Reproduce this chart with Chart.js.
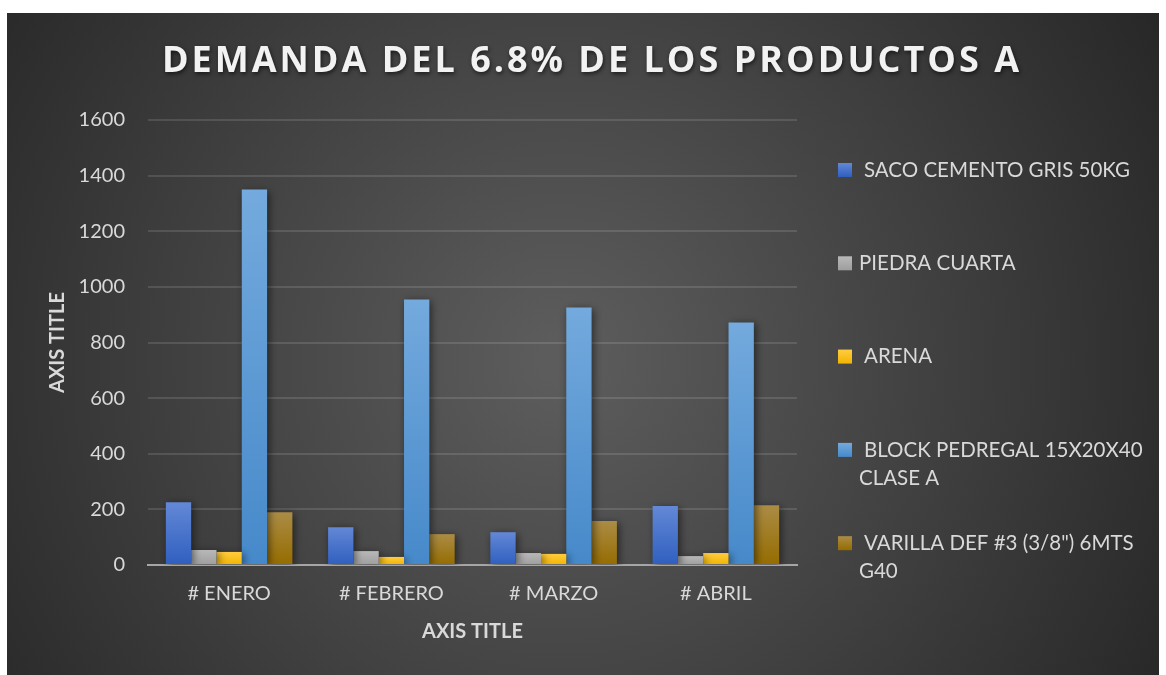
<!DOCTYPE html>
<html>
<head>
<meta charset="utf-8">
<script src="https://cdn.jsdelivr.net/npm/chart.js@4.4.1/dist/chart.umd.min.js"></script>
<style>
  html, body { margin: 0; padding: 0; background: #fff; }
  #wrap { width: 1166px; height: 675px; }
</style>
</head>
<body>
<div id="wrap"><canvas id="chart"></canvas></div>
<script>
const months = ['# ENERO', '# FEBRERO', '# MARZO', '# ABRIL'];
const seriesNames = [
  'SACO CEMENTO GRIS 50KG',
  'PIEDRA CUARTA',
  'ARENA',
  ['BLOCK PEDREGAL 15X20X40', 'CLASE A'],
  ['VARILLA DEF #3 (3/8") 6MTS', 'G40']
];
const saco = [226, 136, 118, 212];
const piedra = [54, 50, 43, 32];
const arena = [47, 29, 40, 43];
const block = [1350, 955, 926, 872];
const varilla = [190, 111, 158, 215];
const yTicks = [0, 200, 400, 600, 800, 1000, 1200, 1400, 1600];

const chartTitle = 'DEMANDA DEL 6.8% DE LOS PRODUCTOS A';
// top / bottom colours of each bar gradient
const barColors = [
  ['#6388d6', '#2f5fbf'],
  ['#b8b8b8', '#9e9e9e'],
  ['#ffcc40', '#f2b400'],
  ['#74aadd', '#4689ca'],
  ['#ab8c45', '#956c00']
];
const textColor = '#d9d9d9';
const font = 'Lato, "Open Sans", sans-serif';

function barGradient(i) {
  return ctx => {
    const chart = ctx.chart;
    if (!chart.chartArea || ctx.type !== 'data') return barColors[i][1];
    const y = chart.scales.y;
    const top = y.getPixelForValue(ctx.raw);
    const bottom = y.getPixelForValue(0);
    if (!isFinite(top) || bottom - top < 1) return barColors[i][1];
    const g = chart.ctx.createLinearGradient(0, top, 0, bottom);
    g.addColorStop(0, barColors[i][0]);
    g.addColorStop(1, barColors[i][1]);
    return g;
  };
}

const values = [saco, piedra, arena, block, varilla];
const datasets = values.map((v, i) => ({
  label: seriesNames[i],
  data: v,
  backgroundColor: barGradient(i),
  borderWidth: 0
}));

const panel = {
  id: 'panel',
  beforeDraw(chart) {
    const c = chart.ctx;
    c.save();
    const g = c.createRadialGradient(560, 360, 20, 560, 360, 720);
    g.addColorStop(0, '#5c5c5c');
    g.addColorStop(0.55, '#3e3e3e');
    g.addColorStop(1, '#252525');
    c.fillStyle = g;
    c.fillRect(7, 13, 1152, 662);
    c.restore();
  },
  beforeDatasetsDraw(chart) {
    const c = chart.ctx;
    c.save();
    c.shadowColor = 'rgba(0,0,0,0.55)';
    c.shadowBlur = 8;
    c.shadowOffsetX = 2;
    c.shadowOffsetY = 2;
  },
  afterDatasetsDraw(chart) {
    chart.ctx.restore();
  },
  afterDraw(chart) {
    const c = chart.ctx;
    // title
    c.save();
    c.font = 'bold 36px "Open Sans", sans-serif';
    c.letterSpacing = '3px';
    c.textAlign = 'center';
    c.textBaseline = 'middle';
    c.shadowColor = 'rgba(0,0,0,0.6)';
    c.shadowBlur = 4;
    c.shadowOffsetX = 1;
    c.shadowOffsetY = 2;
    c.fillStyle = '#f2f2f2';
    c.fillText(chartTitle, 592, 62);
    c.restore();

    // legend
    c.save();
    c.font = '20.5px ' + font;
    c.textBaseline = 'middle';
    c.textAlign = 'left';
    chart.data.datasets.forEach((ds, i) => {
      const y0 = 170 + i * 93.3;
      const g = c.createLinearGradient(0, y0 - 7, 0, y0 + 7);
      g.addColorStop(0, barColors[i][0]);
      g.addColorStop(1, barColors[i][1]);
      c.fillStyle = g;
      c.fillRect(838, y0 - 7, 14, 14);
      c.fillStyle = textColor;
      const lines = Array.isArray(ds.label) ? ds.label : [ds.label];
      lines.forEach((t, k) => c.fillText(t, (k === 0 && i !== 1) ? 864 : 859, y0 + k * 28));
    });
    c.restore();
  }
};

new Chart(document.getElementById('chart'), {
  type: 'bar',
  data: { labels: months, datasets },
  plugins: [panel],
  options: {
    responsive: true,
    maintainAspectRatio: false,
    animation: false,
    layout: { padding: { left: 42, right: 369, top: 120, bottom: 27 } },
    datasets: { bar: { categoryPercentage: 0.78, barPercentage: 1 } },
    plugins: {
      legend: { display: false },
      title: { display: false },
      tooltip: { enabled: false }
    },
    scales: {
      x: {
        afterFit: s => { s.height = 83; },
        grid: { display: false, drawTicks: false },
        border: { display: true, color: '#a6a6a6', width: 2 },
        ticks: { color: textColor, font: { family: font, size: 20 }, padding: 17 },
        title: {
          display: true, text: 'AXIS TITLE', color: textColor,
          font: { family: font, size: 20, weight: 'bold' }
        }
      },
      y: {
        min: 0,
        max: 1600,
        afterFit: s => { s.width = 106; },
        afterBuildTicks: s => { s.ticks = yTicks.map(v => ({ value: v })); },
        grid: { color: 'rgba(255,255,255,0.12)', lineWidth: 2, drawTicks: false },
        border: { display: false },
        ticks: {
          color: textColor, font: { family: font, size: 20 }, padding: 23,
          callback: v => String(v)
        },
        title: {
          display: true, text: 'AXIS TITLE', color: textColor,
          font: { family: font, size: 20, weight: 'bold' }
        }
      }
    }
  }
});
</script>
</body>
</html>
